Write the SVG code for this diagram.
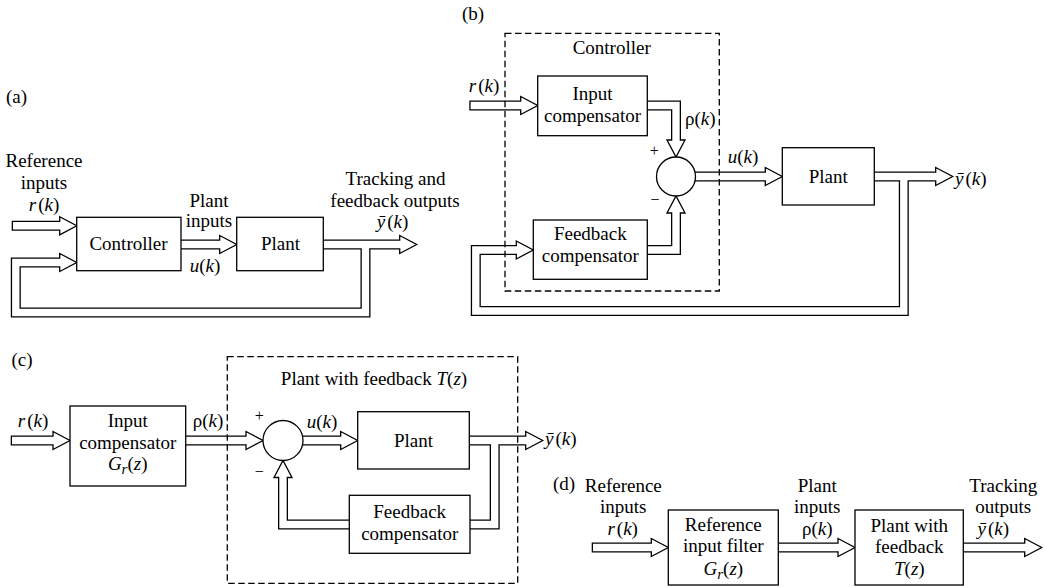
<svg xmlns="http://www.w3.org/2000/svg" width="1045" height="587" viewBox="0 0 1045 587">
<style>
.bx{fill:#fff;stroke:#000;stroke-width:1.3}
.dash{fill:none;stroke:#000;stroke-width:1.3;stroke-dasharray:6.5 3.5}
.so{fill:none;stroke:#000;stroke-width:10;stroke-linejoin:miter}
.si{fill:none;stroke:#fff;stroke-width:7.4;stroke-linejoin:miter}
.ah{fill:#fff;stroke:#000;stroke-width:1.3;stroke-linejoin:miter}
text{font-family:"Liberation Serif","Times New Roman",serif;font-size:19px;fill:#000}
.m{text-anchor:middle}
.i{font-style:italic}
.s{font-size:16px}
</style>
<rect width="1045" height="587" fill="#fff"/>
<g id="connectors">
  <g id="shafts-outer">
    <path class="so" d="M11.7,225.8 H59.7"/>
    <path class="so" d="M179,244.5 H219.7"/>
    <path class="so" d="M321,244.5 H399.7"/>
    <path class="so" d="M365.5,244.5 V312.5 H15.8 V262.5 H59.7"/>
    <path class="so" d="M469.3,105.5 H520.7"/>
    <path class="so" d="M645,105.5 H676 V140"/>
    <path class="so" d="M690,176.5 H765.3"/>
    <path class="so" d="M872,176.5 H935.7"/>
    <path class="so" d="M903.8,176.5 V311 H475.8 V250 H516.3"/>
    <path class="so" d="M645,250 H676 V213"/>
    <path class="so" d="M10.7,440.5 H53"/>
    <path class="so" d="M183,440.5 H246"/>
    <path class="so" d="M298,440.5 H340.7"/>
    <path class="so" d="M467,440.5 H525.7"/>
    <path class="so" d="M494.7,440.5 V524.5 H468"/>
    <path class="so" d="M352,524.5 H283 V477.5"/>
    <path class="so" d="M591.7,547.5 H651.3"/>
    <path class="so" d="M776,547.5 H838"/>
    <path class="so" d="M961,547.5 H1024.7"/>
  </g>
  <g id="heads">
    <polygon class="ah" points="59.7,216.8 76.7,225.8 59.7,234.8"/>
    <polygon class="ah" points="219.7,235.5 236.7,244.5 219.7,253.5"/>
    <polygon class="ah" points="399.7,235.5 416.7,244.5 399.7,253.5"/>
    <polygon class="ah" points="59.7,253.5 76.7,262.5 59.7,271.5"/>
    <polygon class="ah" points="520.7,96.5 537.7,105.5 520.7,114.5"/>
    <polygon class="ah" points="667,140 676,157 685,140"/>
    <polygon class="ah" points="765.3,167.5 782.3,176.5 765.3,185.5"/>
    <polygon class="ah" points="935.7,167.5 952.7,176.5 935.7,185.5"/>
    <polygon class="ah" points="516.3,241 533.3,250 516.3,259"/>
    <polygon class="ah" points="667,213 676,196 685,213"/>
    <polygon class="ah" points="53,431.5 70,440.5 53,449.5"/>
    <polygon class="ah" points="246,431.5 263,440.5 246,449.5"/>
    <polygon class="ah" points="340.7,431.5 357.7,440.5 340.7,449.5"/>
    <polygon class="ah" points="525.7,431.5 542.7,440.5 525.7,449.5"/>
    <polygon class="ah" points="274,477.5 283,460.5 292,477.5"/>
    <polygon class="ah" points="651.3,538.5 668.3,547.5 651.3,556.5"/>
    <polygon class="ah" points="838,538.5 855,547.5 838,556.5"/>
    <polygon class="ah" points="1024.7,538.5 1041.7,547.5 1024.7,556.5"/>
  </g>
  <g id="shafts-inner">
    <path class="si" d="M13,225.8 H61.7"/>
    <path class="si" d="M179,244.5 H221.7"/>
    <path class="si" d="M321,244.5 H401.7"/>
    <path class="si" d="M365.5,244.5 V312.5 H15.8 V262.5 H61.7"/>
    <path class="si" d="M470.6,105.5 H522.7"/>
    <path class="si" d="M645,105.5 H676 V142"/>
    <path class="si" d="M690,176.5 H767.3"/>
    <path class="si" d="M872,176.5 H937.7"/>
    <path class="si" d="M903.8,176.5 V311 H475.8 V250 H518.3"/>
    <path class="si" d="M645,250 H676 V211"/>
    <path class="si" d="M12,440.5 H55"/>
    <path class="si" d="M183,440.5 H248"/>
    <path class="si" d="M298,440.5 H342.7"/>
    <path class="si" d="M467,440.5 H527.7"/>
    <path class="si" d="M494.7,440.5 V524.5 H468"/>
    <path class="si" d="M352,524.5 H283 V475.5"/>
    <path class="si" d="M593,547.5 H653.3"/>
    <path class="si" d="M776,547.5 H840"/>
    <path class="si" d="M961,547.5 H1026.7"/>
  </g>
</g>

<!-- Panel (a) -->
<g id="a-labels">
  <text x="6" y="103">(a)</text>
  <text class="m" x="44" y="167">Reference</text>
  <text class="m" x="44" y="189">inputs</text>
  <text class="m" x="44" y="211"><tspan class="i">r</tspan><tspan dx="2">(</tspan><tspan class="i">k</tspan>)</text>
  <text class="m" x="209" y="206.7">Plant</text>
  <text class="m" x="209" y="226.7">inputs</text>
  <text class="m" x="205" y="271.7"><tspan class="i">u</tspan>(<tspan class="i">k</tspan>)</text>
  <text class="m" x="395.5" y="185">Tracking and</text>
  <text class="m" x="395" y="206.7">feedback outputs</text>
  <text class="m" x="392.5" y="228.3"><tspan class="i">ȳ</tspan><tspan dx="2">(</tspan><tspan class="i">k</tspan>)</text>
</g>
<g id="a-controller">
  <rect class="bx" x="76.7" y="217.3" width="104.3" height="53.4"/>
  <text class="m" x="128.5" y="250">Controller</text>
</g>
<g id="a-plant">
  <rect class="bx" x="236.7" y="217.3" width="86.6" height="53.4"/>
  <text class="m" x="280.5" y="250">Plant</text>
</g>

<!-- Panel (b) -->
<g id="b-labels">
  <text x="462" y="20">(b)</text>
  <text class="m" x="484" y="91.7"><tspan class="i">r</tspan><tspan dx="2">(</tspan><tspan class="i">k</tspan>)</text>
  <text x="685" y="125">ρ(<tspan class="i">k</tspan>)</text>
  <text class="m" x="743" y="163"><tspan class="i">u</tspan>(<tspan class="i">k</tspan>)</text>
  <text x="955" y="185"><tspan class="i">ȳ</tspan><tspan dx="2">(</tspan><tspan class="i">k</tspan>)</text>
  <text class="m s" x="654.3" y="156">+</text>
  <text class="m s" x="655" y="205">−</text>
</g>
<g id="b-controller">
  <rect class="dash" x="505" y="33.3" width="214.3" height="257.7"/>
  <text class="m" x="611.7" y="54">Controller</text>
</g>
<g id="b-input-compensator">
  <rect class="bx" x="537.7" y="76" width="109.6" height="59.7"/>
  <text class="m" x="592.5" y="100">Input</text>
  <text class="m" x="592.5" y="121.7">compensator</text>
</g>
<g id="b-sum">
  <circle class="bx" cx="676" cy="176.5" r="19.5"/>
</g>
<g id="b-plant">
  <rect class="bx" x="782.3" y="147.7" width="92" height="57.3"/>
  <text class="m" x="828.3" y="182.7">Plant</text>
</g>
<g id="b-feedback-compensator">
  <rect class="bx" x="533.3" y="220" width="114" height="59.3"/>
  <text class="m" x="590.3" y="240">Feedback</text>
  <text class="m" x="590.3" y="261.7">compensator</text>
</g>

<!-- Panel (c) -->
<g id="c-labels">
  <text x="11.5" y="366">(c)</text>
  <text class="m" x="33" y="426.7"><tspan class="i">r</tspan><tspan dx="2">(</tspan><tspan class="i">k</tspan>)</text>
  <text class="m" x="208" y="426.7">ρ(<tspan class="i">k</tspan>)</text>
  <text class="m" x="322" y="428.3"><tspan class="i">u</tspan>(<tspan class="i">k</tspan>)</text>
  <text x="545" y="445"><tspan class="i">ȳ</tspan><tspan dx="2">(</tspan><tspan class="i">k</tspan>)</text>
  <text class="m s" x="259.3" y="421">+</text>
  <text class="m s" x="259.3" y="477">−</text>
</g>
<g id="c-input-compensator">
  <rect class="bx" x="70" y="406" width="115.7" height="80"/>
  <text class="m" x="127.7" y="426.7">Input</text>
  <text class="m" x="127.7" y="449.3">compensator</text>
  <text class="m" x="127.7" y="470"><tspan class="i">G</tspan><tspan class="i" font-size="15" dy="4">r</tspan><tspan dy="-4">(</tspan><tspan class="i">z</tspan>)</text>
</g>
<g id="c-plant-with-feedback">
  <rect class="dash" x="227.3" y="356.7" width="290.4" height="226.6"/>
  <text class="m" x="374" y="385">Plant with feedback <tspan class="i">T</tspan>(<tspan class="i">z</tspan>)</text>
</g>
<g id="c-sum">
  <circle class="bx" cx="283" cy="440.5" r="20"/>
</g>
<g id="c-plant">
  <rect class="bx" x="357.7" y="411.7" width="111.6" height="57.3"/>
  <text class="m" x="413.5" y="447.3">Plant</text>
</g>
<g id="c-feedback-compensator">
  <rect class="bx" x="349.3" y="495.3" width="120.7" height="58"/>
  <text class="m" x="409.7" y="518.3">Feedback</text>
  <text class="m" x="409.7" y="540">compensator</text>
</g>

<!-- Panel (d) -->
<g id="d-labels">
  <text x="553" y="490">(d)</text>
  <text class="m" x="623.3" y="491.7">Reference</text>
  <text class="m" x="623.3" y="513.3">inputs</text>
  <text class="m" x="622.7" y="535"><tspan class="i">r</tspan><tspan dx="2">(</tspan><tspan class="i">k</tspan>)</text>
  <text class="m" x="817.3" y="491.7">Plant</text>
  <text class="m" x="817.3" y="513.3">inputs</text>
  <text class="m" x="817.3" y="535">ρ(<tspan class="i">k</tspan>)</text>
  <text class="m" x="1003.3" y="491.7">Tracking</text>
  <text class="m" x="1003.3" y="513.3">outputs</text>
  <text class="m" x="993.3" y="535"><tspan class="i">ȳ</tspan><tspan dx="2">(</tspan><tspan class="i">k</tspan>)</text>
</g>
<g id="d-reference-input-filter">
  <rect class="bx" x="668.3" y="510" width="110" height="75"/>
  <text class="m" x="723.3" y="530.7">Reference</text>
  <text class="m" x="723.3" y="551.7">input filter</text>
  <text class="m" x="723.3" y="575"><tspan class="i">G</tspan><tspan class="i" font-size="15" dy="4">r</tspan><tspan dy="-4">(</tspan><tspan class="i">z</tspan>)</text>
</g>
<g id="d-plant-with-feedback">
  <rect class="bx" x="855" y="510" width="108.3" height="75"/>
  <text class="m" x="909.3" y="531.7">Plant with</text>
  <text class="m" x="909.3" y="553.3">feedback</text>
  <text class="m" x="909.3" y="575"><tspan class="i">T</tspan>(<tspan class="i">z</tspan>)</text>
</g>
</svg>
